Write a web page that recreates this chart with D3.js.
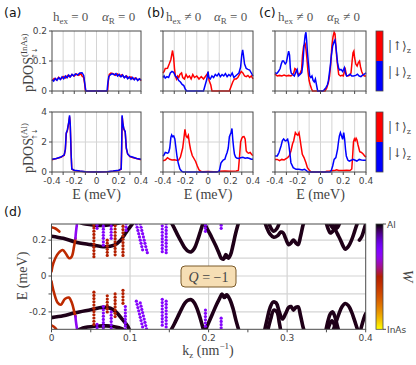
<!DOCTYPE html>
<html>
<head>
<meta charset="utf-8">
<script src="https://cdn.jsdelivr.net/npm/d3@7"></script>
<style>
  body { margin: 0; background: #fff; }
</style>
</head>
<body>
<svg id="fig" width="416" height="365"></svg>
<script>
// ---------- pDOS data, [E (meV), pDOS] ----------
const aTopRed = [[-0.4,0.034],[-0.38,0.042],[-0.36,0.037],[-0.34,0.046],[-0.32,0.040],[-0.3,0.048],[-0.28,0.043],[-0.26,0.052],[-0.24,0.047],[-0.22,0.055],[-0.2,0.050],[-0.18,0.057],[-0.16,0.052],[-0.14,0.058],[-0.13,0.050],[-0.115,0.045],[-0.105,0.02],[-0.1,0],[0.1,0],[0.105,0.03],[0.115,0.055],[0.13,0.060],[0.15,0.058],[0.17,0.052],[0.19,0.057],[0.21,0.050],[0.23,0.054],[0.25,0.045],[0.27,0.050],[0.29,0.043],[0.31,0.047],[0.33,0.040],[0.35,0.044],[0.37,0.037],[0.39,0.040],[0.4,0.034]];
const aTopBlue = [[-0.4,0.038],[-0.385,0.033],[-0.37,0.042],[-0.355,0.036],[-0.34,0.044],[-0.325,0.038],[-0.31,0.047],[-0.295,0.041],[-0.28,0.050],[-0.265,0.044],[-0.25,0.053],[-0.235,0.047],[-0.22,0.055],[-0.205,0.050],[-0.19,0.057],[-0.17,0.053],[-0.15,0.060],[-0.13,0.061],[-0.115,0.052],[-0.1,0.01],[-0.095,0],[0.095,0],[0.1,0.02],[0.11,0.048],[0.125,0.054],[0.14,0.058],[0.16,0.054],[0.175,0.058],[0.19,0.050],[0.205,0.055],[0.22,0.047],[0.235,0.053],[0.25,0.044],[0.265,0.050],[0.28,0.041],[0.295,0.047],[0.31,0.039],[0.325,0.045],[0.34,0.037],[0.355,0.043],[0.37,0.035],[0.385,0.041],[0.4,0.036]];
const aBotRed = [[-0.4,0.82],[-0.36,0.9],[-0.32,0.98],[-0.29,1.12],[-0.28,1.5],[-0.272,2.55],[-0.262,2.75],[-0.25,3.25],[-0.242,3.7],[-0.236,3.15],[-0.228,1.2],[-0.222,0.2],[-0.2,0.1],[-0.15,0.05],[-0.1,0.02],[0,0],[0.1,0.02],[0.15,0.05],[0.2,0.1],[0.222,0.2],[0.226,1.5],[0.231,3.7],[0.237,3.25],[0.246,2.85],[0.258,2.65],[0.268,1.55],[0.28,1.2],[0.3,1.02],[0.33,0.95],[0.36,0.9],[0.4,0.82]];
const aBotBlue = [[-0.4,0.85],[-0.36,0.9],[-0.32,1.0],[-0.29,1.15],[-0.28,1.5],[-0.272,2.6],[-0.262,2.8],[-0.25,3.3],[-0.242,3.78],[-0.236,3.2],[-0.228,1.2],[-0.222,0.2],[-0.2,0.12],[-0.15,0.06],[-0.1,0.02],[0,0],[0.1,0.02],[0.15,0.06],[0.2,0.12],[0.222,0.2],[0.226,1.5],[0.23,3.78],[0.236,3.3],[0.245,2.9],[0.258,2.7],[0.268,1.6],[0.28,1.2],[0.3,1.05],[0.33,0.98],[0.36,0.9],[0.4,0.85]];

const bTopRed = [[-0.4,0.06],[-0.39,0.065],[-0.38,0.075],[-0.36,0.076],[-0.345,0.09],[-0.33,0.105],[-0.315,0.135],[-0.305,0.11],[-0.298,0.075],[-0.29,0.05],[-0.28,0.04],[-0.27,0.05],[-0.26,0.045],[-0.25,0.055],[-0.235,0.06],[-0.225,0.045],[-0.21,0.04],[-0.195,0.055],[-0.18,0.045],[-0.165,0.05],[-0.15,0.04],[-0.135,0.055],[-0.12,0.045],[-0.1,0.05],[-0.08,0.04],[-0.06,0.048],[-0.04,0.04],[-0.02,0.05],[0,0.06],[0.01,0.035],[0.025,0.02],[0.035,0],[0.19,0],[0.205,0.015],[0.22,0.03],[0.235,0.04],[0.25,0.04],[0.265,0.045],[0.28,0.055],[0.295,0.065],[0.31,0.06],[0.325,0.05],[0.34,0.048],[0.355,0.052],[0.37,0.045],[0.385,0.05],[0.4,0.04]];
const bTopBlue = [[-0.4,0.045],[-0.39,0.05],[-0.38,0.043],[-0.365,0.048],[-0.35,0.045],[-0.335,0.06],[-0.32,0.065],[-0.305,0.062],[-0.29,0.05],[-0.275,0.045],[-0.26,0.035],[-0.245,0.03],[-0.23,0.022],[-0.215,0.018],[-0.2,0.005],[-0.19,0],[-0.04,0],[-0.025,0.02],[-0.01,0.04],[0,0.065],[0.008,0.045],[0.02,0.04],[0.035,0.05],[0.05,0.045],[0.065,0.055],[0.08,0.05],[0.095,0.058],[0.11,0.048],[0.125,0.055],[0.14,0.05],[0.155,0.058],[0.17,0.048],[0.185,0.055],[0.2,0.05],[0.215,0.06],[0.23,0.045],[0.245,0.05],[0.26,0.055],[0.275,0.06],[0.29,0.08],[0.3,0.12],[0.308,0.137],[0.315,0.12],[0.325,0.09],[0.34,0.075],[0.355,0.072],[0.37,0.07],[0.385,0.06],[0.4,0.05]];
const bBotRed = [[-0.4,0.75],[-0.38,0.8],[-0.36,0.95],[-0.34,0.85],[-0.32,0.8],[-0.3,0.82],[-0.28,0.78],[-0.26,0.8],[-0.245,1.0],[-0.235,1.3],[-0.225,1.6],[-0.215,2.2],[-0.205,2.84],[-0.195,2.4],[-0.185,2.3],[-0.175,2.45],[-0.165,1.9],[-0.155,1.5],[-0.14,1.1],[-0.125,0.9],[-0.11,0.7],[-0.095,0.4],[-0.08,0.15],[-0.065,0.05],[-0.05,0.02],[0,0.03],[0.05,0.02],[0.09,0.03],[0.1,0.05],[0.15,0.06],[0.2,0.05],[0.25,0.07],[0.27,0.1],[0.28,1.0],[0.29,2.0],[0.3,2.25],[0.31,2.35],[0.32,2.36],[0.33,2.2],[0.34,1.4],[0.35,1.3],[0.36,1.25],[0.375,1.3],[0.39,1.15],[0.4,1.1]];
const bBotBlue = [[-0.4,1.05],[-0.39,1.15],[-0.38,1.3],[-0.37,1.28],[-0.36,1.25],[-0.35,1.3],[-0.34,1.6],[-0.33,2.3],[-0.323,2.47],[-0.315,2.35],[-0.305,2.4],[-0.295,2.2],[-0.285,1.6],[-0.275,1.0],[-0.264,0.58],[-0.25,0.2],[-0.235,0.05],[-0.22,0],[0.08,0],[0.1,0.05],[0.107,0.3],[0.115,0.6],[0.125,0.7],[0.135,0.8],[0.15,0.85],[0.16,1.1],[0.17,1.3],[0.18,1.6],[0.19,2.36],[0.2,2.55],[0.205,2.6],[0.213,2.9],[0.22,2.2],[0.228,1.6],[0.235,1.2],[0.245,1.0],[0.255,0.93],[0.27,0.9],[0.29,0.95],[0.31,0.98],[0.33,0.92],[0.35,0.95],[0.37,0.9],[0.385,0.85],[0.4,0.85]];

const cTopRed = [[-0.4,0.056],[-0.38,0.05],[-0.36,0.052],[-0.34,0.05],[-0.32,0.053],[-0.3,0.05],[-0.28,0.052],[-0.26,0.05],[-0.245,0.055],[-0.235,0.06],[-0.225,0.075],[-0.215,0.072],[-0.205,0.06],[-0.195,0.055],[-0.18,0.058],[-0.166,0.072],[-0.158,0.12],[-0.148,0.15],[-0.135,0.157],[-0.128,0.14],[-0.12,0.11],[-0.11,0.065],[-0.1,0.035],[-0.09,0.02],[-0.08,0.008],[-0.07,0],[0.04,0],[0.055,0.01],[0.069,0.028],[0.08,0.05],[0.09,0.09],[0.1,0.15],[0.11,0.18],[0.12,0.196],[0.128,0.19],[0.135,0.15],[0.143,0.11],[0.151,0.083],[0.16,0.055],[0.175,0.05],[0.19,0.052],[0.2,0.05],[0.21,0.065],[0.218,0.072],[0.228,0.052],[0.24,0.05],[0.255,0.052],[0.268,0.06],[0.278,0.1],[0.286,0.128],[0.293,0.133],[0.3,0.11],[0.31,0.09],[0.322,0.083],[0.333,0.095],[0.343,0.1],[0.352,0.08],[0.362,0.065],[0.372,0.056],[0.385,0.05],[0.4,0.05]];
const cTopBlue = [[-0.4,0.061],[-0.385,0.058],[-0.37,0.065],[-0.355,0.075],[-0.345,0.09],[-0.335,0.1],[-0.325,0.1],[-0.31,0.09],[-0.3,0.095],[-0.29,0.115],[-0.28,0.133],[-0.272,0.12],[-0.265,0.075],[-0.258,0.06],[-0.245,0.055],[-0.23,0.05],[-0.215,0.065],[-0.205,0.072],[-0.195,0.05],[-0.18,0.055],[-0.165,0.061],[-0.155,0.09],[-0.145,0.15],[-0.135,0.185],[-0.128,0.196],[-0.122,0.17],[-0.115,0.13],[-0.107,0.094],[-0.095,0.05],[-0.085,0.045],[-0.075,0.05],[-0.065,0.035],[-0.055,0.03],[-0.045,0.04],[-0.035,0.02],[-0.025,0],[0.02,0],[0.035,0.005],[0.048,0.011],[0.06,0.02],[0.069,0.033],[0.078,0.06],[0.086,0.083],[0.096,0.12],[0.107,0.15],[0.12,0.165],[0.127,0.17],[0.135,0.15],[0.143,0.12],[0.15,0.094],[0.16,0.075],[0.17,0.07],[0.18,0.072],[0.195,0.065],[0.21,0.078],[0.22,0.06],[0.23,0.05],[0.245,0.052],[0.26,0.056],[0.275,0.05],[0.29,0.05],[0.31,0.052],[0.325,0.056],[0.34,0.05],[0.355,0.048],[0.37,0.053],[0.385,0.056],[0.4,0.061]];
const cBotRed = [[-0.4,0.84],[-0.38,0.84],[-0.36,0.75],[-0.34,0.84],[-0.32,0.8],[-0.3,0.9],[-0.289,0.96],[-0.275,1.07],[-0.26,1.4],[-0.245,1.9],[-0.236,2.07],[-0.221,2.62],[-0.21,2.5],[-0.2,2.45],[-0.189,2.62],[-0.18,2.2],[-0.171,1.73],[-0.16,1.18],[-0.145,0.96],[-0.128,0.62],[-0.115,0.29],[-0.1,0.13],[-0.083,0],[0.04,0],[0.055,0.05],[0.08,0.06],[0.1,0.08],[0.13,0.12],[0.142,0.15],[0.16,0.1],[0.2,0.1],[0.23,0.12],[0.26,0.1],[0.275,0.2],[0.282,1.0],[0.29,2.0],[0.298,2.2],[0.305,2.1],[0.313,2.25],[0.32,2.15],[0.33,1.8],[0.345,1.35],[0.36,1.3],[0.375,1.2],[0.39,1.05],[0.4,1.0]];
const cBotBlue = [[-0.4,1.07],[-0.38,1.07],[-0.365,1.3],[-0.347,1.73],[-0.335,2.1],[-0.324,2.2],[-0.31,2.07],[-0.3,2.1],[-0.289,2.18],[-0.28,1.9],[-0.27,1.3],[-0.26,0.62],[-0.24,0.29],[-0.215,0.18],[-0.19,0.18],[-0.16,0.13],[-0.14,0.18],[-0.125,0.1],[-0.11,0],[0.085,0],[0.095,0.1],[0.107,0.4],[0.12,0.84],[0.135,0.96],[0.15,1.5],[0.158,2.0],[0.166,2.4],[0.175,2.62],[0.185,2.4],[0.195,2.18],[0.204,2.62],[0.212,2.2],[0.22,1.5],[0.227,1.07],[0.24,0.8],[0.253,0.73],[0.27,0.78],[0.285,0.84],[0.3,0.8],[0.32,0.73],[0.34,0.84],[0.36,0.8],[0.38,0.78],[0.4,0.78]];

const eTicks = [-0.4, -0.3, -0.2, -0.1, 0, 0.1, 0.2, 0.3, 0.4];
const eTickLabels = [-0.4, -0.2, 0, 0.2, 0.4];

// ---------- band structure (d): [k (nm^-1), E (meV)], t = weight (0 Al ... 1 InAs) ----------
const bandBlackT = 0.015;
const bandsBlack = [
  // lowest Al-like band
  [[0,0.222],[0.015,0.21],[0.03,0.19],[0.05,0.175],[0.068,0.163],[0.08,0.172],[0.088,0.2],[0.093,0.23],[0.098,0.262],[0.102,0.285],[0.106,0.31]],
  [[0,-0.232],[0.015,-0.222],[0.03,-0.205],[0.05,-0.188],[0.065,-0.175],[0.075,-0.18],[0.082,-0.2],[0.09,-0.24],[0.097,-0.28],[0.1,-0.31]],
  // bands hugging the window edge
  [[0.03,0.31],[0.04,0.293],[0.05,0.286],[0.06,0.282],[0.07,0.283],[0.08,0.29],[0.09,0.3],[0.095,0.31]],
  [[0.03,-0.31],[0.04,-0.29],[0.055,-0.28],[0.07,-0.278],[0.08,-0.283],[0.09,-0.295],[0.095,-0.31]],
  // V shapes near k = 0.18 - 0.24
  [[0.151,0.31],[0.156,0.27],[0.161,0.225],[0.166,0.185],[0.17,0.155],[0.174,0.138],[0.178,0.135],[0.182,0.155],[0.186,0.2],[0.19,0.255],[0.194,0.31]],
  [[0.193,0.31],[0.198,0.265],[0.204,0.215],[0.209,0.17],[0.213,0.13],[0.216,0.1],[0.219,0.095],[0.222,0.12],[0.225,0.1],[0.228,0.12],[0.231,0.17],[0.234,0.23],[0.237,0.28],[0.239,0.31]],
  [[0.151,-0.31],[0.156,-0.27],[0.161,-0.225],[0.166,-0.18],[0.17,-0.15],[0.174,-0.135],[0.178,-0.132],[0.182,-0.15],[0.186,-0.19],[0.19,-0.245],[0.194,-0.31]],
  [[0.195,-0.31],[0.2,-0.26],[0.205,-0.21],[0.21,-0.16],[0.214,-0.125],[0.217,-0.1],[0.22,-0.12],[0.223,-0.105],[0.227,-0.13],[0.231,-0.18],[0.235,-0.25],[0.239,-0.31]],
  // k = 0.27 - 0.32
  [[0.271,0.31],[0.274,0.27],[0.278,0.235],[0.283,0.216],[0.288,0.225],[0.292,0.245],[0.295,0.24],[0.298,0.21],[0.302,0.175],[0.305,0.185],[0.308,0.2],[0.311,0.185],[0.314,0.175],[0.317,0.22],[0.32,0.28],[0.322,0.31]],
  [[0.276,0.31],[0.279,0.27],[0.283,0.25],[0.287,0.265],[0.291,0.31]],
  [[0.271,-0.31],[0.274,-0.25],[0.278,-0.18],[0.282,-0.145],[0.286,-0.15],[0.29,-0.2],[0.294,-0.24],[0.298,-0.21],[0.302,-0.175],[0.305,-0.17],[0.308,-0.19],[0.311,-0.175],[0.314,-0.172],[0.317,-0.22],[0.32,-0.28],[0.322,-0.31]],
  [[0.275,-0.31],[0.279,-0.24],[0.283,-0.19],[0.287,-0.2],[0.29,-0.26],[0.292,-0.31]],
  // k = 0.35 - 0.40
  [[0.349,0.31],[0.352,0.265],[0.355,0.24],[0.359,0.255],[0.363,0.29],[0.365,0.31]],
  [[0.352,0.31],[0.356,0.28],[0.36,0.26],[0.364,0.27],[0.368,0.31]],
  [[0.356,0.31],[0.36,0.27],[0.364,0.235],[0.368,0.2],[0.371,0.17],[0.374,0.15],[0.378,0.165],[0.382,0.2],[0.386,0.25],[0.389,0.29],[0.391,0.31]],
  [[0.392,0.2],[0.395,0.22],[0.398,0.26],[0.4,0.29]],
  [[0.358,-0.31],[0.362,-0.26],[0.366,-0.21],[0.37,-0.17],[0.374,-0.153],[0.378,-0.165],[0.382,-0.2],[0.386,-0.25],[0.389,-0.29],[0.391,-0.31]],
  [[0.349,-0.31],[0.352,-0.25],[0.355,-0.21],[0.358,-0.2],[0.361,-0.23],[0.364,-0.28],[0.366,-0.31]],
  [[0.351,-0.31],[0.354,-0.27],[0.357,-0.25],[0.36,-0.27],[0.362,-0.31]],
  [[0.393,-0.31],[0.396,-0.26],[0.399,-0.22],[0.4,-0.21]]
];

// InAs-like band near k = 0 (red), and its Al-mixed continuation (purple)
const bandRedT = 0.55;
const bandsRed = [
  [[0,0.025],[0.0023,0.071],[0.0087,0.127],[0.0143,0.145],[0.018,0.127],[0.0223,0.099],[0.0257,0.108],[0.0287,0.164],[0.0305,0.21]],
  [[0,-0.03],[0.003,-0.09],[0.008,-0.15],[0.012,-0.16],[0.017,-0.128],[0.022,-0.12],[0.026,-0.15],[0.029,-0.2],[0.0305,-0.225]],
  [[0,0.272],[0.005,0.265],[0.01,0.248]],
  [[0,-0.275],[0.005,-0.29],[0.008,-0.31]]
];
const bandMixT = 0.3;
const bandsMix = [
  [[0.0305,0.21],[0.031,0.239],[0.033,0.31]],
  [[0.0305,-0.225],[0.031,-0.25],[0.033,-0.31]]
];

// discrete-k states (dots)
const dotsRedT = 0.5;
const dotsRed = [
  [0.054,0.285],[0.054,0.268],[0.054,0.25],[0.054,0.232],[0.054,0.214],[0.054,0.196],[0.054,0.178],[0.054,0.16],[0.054,0.142],[0.054,0.124],[0.054,0.108],
  [0.071,0.2],[0.071,0.183],[0.071,0.166],[0.071,0.149],[0.071,0.132],[0.071,0.115],
  [0.081,0.28],[0.081,0.262],[0.081,0.244],[0.081,0.226],[0.081,0.208],[0.081,0.19],[0.081,0.172],[0.081,0.154],[0.081,0.136],[0.081,0.118],
  [0.091,0.295],[0.091,0.277],[0.091,0.259],[0.091,0.241],[0.091,0.223],[0.091,0.205],[0.091,0.187],[0.091,0.169],[0.091,0.151],[0.091,0.133],[0.091,0.115],
  [0.054,-0.09],[0.054,-0.108],[0.054,-0.126],[0.054,-0.144],[0.054,-0.162],[0.054,-0.18],[0.054,-0.198],[0.054,-0.216],[0.054,-0.234],[0.054,-0.252],[0.054,-0.27],
  [0.071,-0.11],[0.071,-0.128],[0.071,-0.146],[0.071,-0.164],[0.071,-0.182],[0.071,-0.2],
  [0.081,-0.1],[0.081,-0.118],[0.081,-0.136],[0.081,-0.154],[0.081,-0.172],[0.081,-0.19],[0.081,-0.208],[0.081,-0.226],
  [0.091,-0.08],[0.091,-0.098],[0.091,-0.116],[0.091,-0.134],[0.091,-0.152]
];
const dotsPurpleT = 0.27;
const dotsPurple = [
  [0.058,0.3],[0.058,0.283],[0.058,0.266],
  [0.066,0.295],[0.066,0.278],[0.066,0.261],[0.066,0.244],[0.066,0.227],[0.066,0.21],[0.066,0.19],[0.066,0.172],
  [0.076,0.295],[0.076,0.278],[0.076,0.261],[0.076,0.244],[0.076,0.227],[0.076,0.21],
  [0.095,0.29],[0.095,0.272],[0.095,0.254],
  [0.108,0.29],[0.109,0.272],[0.11,0.254],[0.111,0.236],[0.112,0.218],[0.113,0.2],[0.114,0.182],[0.115,0.164],[0.116,0.146],
  [0.113,0.29],[0.114,0.272],[0.115,0.254],[0.116,0.236],[0.117,0.218],[0.118,0.2],[0.119,0.182],[0.12,0.164],[0.121,0.146],[0.122,0.13],
  [0.141,0.28],[0.141,0.262],[0.141,0.244],[0.141,0.226],[0.141,0.208],[0.141,0.19],[0.141,0.172],[0.141,0.154],[0.141,0.136],
  [0.146,0.29],[0.146,0.272],[0.146,0.254],[0.146,0.236],[0.146,0.218],[0.146,0.2],[0.146,0.182],[0.146,0.164],[0.146,0.146],[0.146,0.13],
  [0.196,0.3],[0.196,0.283],[0.196,0.266],[0.196,0.249],
  [0.216,0.3],[0.216,0.283],[0.216,0.266],
  [0.058,-0.27],[0.058,-0.288],
  [0.066,-0.17],[0.066,-0.188],[0.066,-0.206],[0.066,-0.224],[0.066,-0.242],[0.066,-0.26],[0.066,-0.278],[0.066,-0.296],
  [0.076,-0.2],[0.076,-0.218],[0.076,-0.236],[0.076,-0.254],[0.076,-0.272],[0.076,-0.29],
  [0.094,-0.17],[0.094,-0.188],[0.094,-0.206],[0.094,-0.224],[0.094,-0.242],[0.094,-0.26],[0.094,-0.278],[0.094,-0.296],
  [0.108,-0.14],[0.109,-0.158],[0.11,-0.176],[0.111,-0.194],[0.112,-0.212],[0.113,-0.23],[0.114,-0.248],[0.115,-0.266],[0.116,-0.284],
  [0.113,-0.15],[0.114,-0.168],[0.115,-0.186],[0.116,-0.204],[0.117,-0.222],[0.118,-0.24],[0.119,-0.258],[0.12,-0.276],[0.121,-0.294],
  [0.141,-0.13],[0.141,-0.148],[0.141,-0.166],[0.141,-0.184],[0.141,-0.202],[0.141,-0.22],[0.141,-0.238],[0.141,-0.256],[0.141,-0.274],
  [0.146,-0.14],[0.146,-0.158],[0.146,-0.176],[0.146,-0.194],[0.146,-0.212],[0.146,-0.23],[0.146,-0.248],[0.146,-0.266],[0.146,-0.284],
  [0.196,-0.19],[0.196,-0.208],[0.196,-0.226],[0.196,-0.244],[0.196,-0.262],[0.196,-0.28],
  [0.216,-0.235],[0.216,-0.253],[0.216,-0.271],[0.216,-0.289]
];
const kTicks = [0, 0.1, 0.2, 0.3, 0.4];
const kMinorTicks = [0.05, 0.15, 0.25, 0.35];
const dETicks = [-0.2, -0.1, 0, 0.1, 0.2];
const dETickLabels = [-0.2, 0, 0.2];

// ---------- helpers ----------
const svg = d3.select("#fig");
const serif = "'Liberation Serif', 'DejaVu Serif', serif";
const sans = "'DejaVu Sans', 'Liberation Sans', sans-serif";
const frameCol = "#4a4a4a", gridCol = "#d4d4d4", labCol = "#444";

// gnuplot-like colour map: 0 -> black (Al), 1 -> yellow (InAs)
function gnu(t) {
  const r = Math.sqrt(t), g = t * t * t, b = Math.max(0, Math.sin(2 * Math.PI * t));
  return d3.rgb(255 * r, 255 * g, 255 * b).formatHex();
}

function fmt(v) { return v === 0 ? "0" : String(v); }

function drawDOS(o) {
  const x = d3.scaleLinear().domain([-0.4, 0.4]).range([o.x0, o.x1]);
  const y = d3.scaleLinear().domain([0, o.ymax]).range([o.y1, o.y0]);
  const g = svg.append("g");

  // grid
  g.selectAll(".vg").data(eTicks.slice(1, -1)).enter().append("line")
    .attr("x1", d => x(d)).attr("x2", d => x(d)).attr("y1", o.y0).attr("y2", o.y1)
    .attr("stroke", gridCol).attr("stroke-width", 1);
  g.append("line").attr("x1", o.x0).attr("x2", o.x1)
    .attr("y1", y(o.ymax / 2)).attr("y2", y(o.ymax / 2))
    .attr("stroke", gridCol).attr("stroke-width", 1);

  const line = d3.line().x(d => x(d[0])).y(d => y(d[1]));
  g.append("path").datum(o.red).attr("d", line)
    .attr("fill", "none").attr("stroke", "#ff0000").attr("stroke-width", 1.5);
  g.append("path").datum(o.blue).attr("d", line)
    .attr("fill", "none").attr("stroke", "#0000ff").attr("stroke-width", 1.5);

  g.append("rect").attr("x", o.x0).attr("y", o.y0)
    .attr("width", o.x1 - o.x0).attr("height", o.y1 - o.y0)
    .attr("fill", "none").attr("stroke", frameCol).attr("stroke-width", 1);

  // ticks
  g.selectAll(".xt").data(eTicks).enter().append("line")
    .attr("x1", d => x(d)).attr("x2", d => x(d)).attr("y1", o.y1).attr("y2", o.y1 + 3)
    .attr("stroke", frameCol);
  g.selectAll(".yt").data([0, o.ymax / 2, o.ymax]).enter().append("line")
    .attr("x1", o.x0 - 3).attr("x2", o.x0).attr("y1", d => y(d)).attr("y2", d => y(d))
    .attr("stroke", frameCol);

  if (o.yLabels) {
    g.selectAll(".yl").data(o.yLabels).enter().append("text")
      .attr("x", o.x0 - 5).attr("y", d => y(d) + 3)
      .attr("text-anchor", "end").attr("font-family", sans).attr("font-size", 9)
      .attr("fill", labCol).text(fmt);
  }
  if (o.xLabels) {
    g.selectAll(".xl").data(eTickLabels).enter().append("text")
      .attr("x", d => x(d)).attr("y", o.y1 + 12)
      .attr("text-anchor", "middle").attr("font-family", sans).attr("font-size", 9)
      .attr("fill", labCol).text(fmt);
    g.append("text").attr("x", (o.x0 + o.x1) / 2).attr("y", o.y1 + 27)
      .attr("text-anchor", "middle").attr("font-family", serif).attr("font-size", 14)
      .attr("fill", labCol).text("E (meV)");
  }
}

// ---------- top: pDOS panels ----------
const cols = [[52, 141], [163, 253], [275, 366]];
const topData = [[aTopRed, aTopBlue], [bTopRed, bTopBlue], [cTopRed, cTopBlue]];
const botData = [[aBotRed, aBotBlue], [bBotRed, bBotBlue], [cBotRed, cBotBlue]];
cols.forEach((c, i) => {
  drawDOS({ x0: c[0], x1: c[1], y0: 31, y1: 91, ymax: 0.2,
    red: topData[i][0], blue: topData[i][1], yLabels: i === 0 ? [0, 0.1, 0.2] : null });
  drawDOS({ x0: c[0], x1: c[1], y0: 112, y1: 172, ymax: 4,
    red: botData[i][0], blue: botData[i][1], yLabels: i === 0 ? [0, 2, 4] : null, xLabels: true });
});

// spin colour bars
[[31, 91], [112, 172]].forEach(([y0, y1]) => {
  const ym = (y0 + y1) / 2;
  svg.append("rect").attr("x", 376).attr("y", y0).attr("width", 7).attr("height", ym - y0).attr("fill", "#ff0000");
  svg.append("rect").attr("x", 376).attr("y", ym).attr("width", 7).attr("height", y1 - ym).attr("fill", "#0000ff");
  svg.append("rect").attr("x", 376).attr("y", y0).attr("width", 7).attr("height", y1 - y0)
    .attr("fill", "none").attr("stroke", frameCol).attr("stroke-width", 0.8);
  [["|\u2191\u27E9", y0 + 19], ["|\u2193\u27E9", y0 + 45]].forEach(([s, yy]) => {
    const t = svg.append("text").attr("x", 388).attr("y", yy)
      .attr("font-family", "'DejaVu Serif', serif").attr("font-size", 12).attr("fill", labCol);
    t.append("tspan").text(s);
    t.append("tspan").attr("font-size", 8).attr("dy", 3).text("z");
  });
});

// panel titles
function title(x, y, sym, sub, rel, italic) {
  const t = svg.append("text").attr("x", x).attr("y", y)
    .attr("font-family", serif).attr("font-size", 13).attr("fill", "#555");
  t.append("tspan").attr("font-style", italic ? "italic" : "normal").text(sym);
  t.append("tspan").attr("font-size", 9).attr("dy", 3).text(sub);
  t.append("tspan").attr("dy", -3).text(" " + rel);
}
title(53, 21, "h", "ex", "= 0", false);
title(102, 21, "\u03B1", "R", "= 0", true);
title(166, 21, "h", "ex", "\u2260 0", false);
title(214, 21, "\u03B1", "R", "= 0", true);
title(278, 21, "h", "ex", "\u2260 0", false);
title(327, 21, "\u03B1", "R", "\u2260 0", true);

[["(a)", 4, 17], ["(b)", 147, 17], ["(c)", 259, 17], ["(d)", 4, 216]].forEach(([s, x, y]) => {
  svg.append("text").attr("x", x).attr("y", y).attr("font-family", sans)
    .attr("font-size", 12.5).attr("fill", "#111").text(s);
});

// y labels for pDOS rows
function pdosLabel(cy, sup) {
  const g = svg.append("g").attr("transform", `translate(33,${cy}) rotate(-90)`);
  const t = g.append("text").attr("x", -31).attr("y", 0)
    .attr("font-family", serif).attr("font-size", 14).attr("fill", labCol);
  t.append("tspan").text("pDOS");
  t.append("tspan").attr("font-size", 9).attr("dy", -6).text(sup);
  g.append("text").attr("x", 2).attr("y", 4).attr("font-family", "'DejaVu Sans', sans-serif")
    .attr("font-size", 7).attr("fill", labCol).text("\u2191\u2193");
}
pdosLabel(61, "(InAs)");
pdosLabel(142, "(Al)");

// ---------- bottom: band structure (d) ----------
const kx = d3.scaleLinear().domain([0, 0.4]).range([51.5, 365.7]);
const ey = d3.scaleLinear().domain([-0.297, 0.29]).range([329.3, 224]);
const dL = kx.range()[0], dR = kx.range()[1], dT = 224, dB = 329.3;

svg.append("clipPath").attr("id", "dclip").append("rect")
  .attr("x", dL).attr("y", dT).attr("width", dR - dL).attr("height", dB - dT);

const gd = svg.append("g");
gd.selectAll(".hg").data(dETicks).enter().append("line")
  .attr("x1", dL).attr("x2", dR).attr("y1", d => ey(d)).attr("y2", d => ey(d))
  .attr("stroke", gridCol).attr("stroke-width", 1.2);
gd.selectAll(".vg").data(kTicks.slice(1, -1)).enter().append("line")
  .attr("x1", d => kx(d)).attr("x2", d => kx(d)).attr("y1", dT).attr("y2", dB)
  .attr("stroke", gridCol).attr("stroke-width", 1.2);

const plot = gd.append("g").attr("clip-path", "url(#dclip)");
const bline = d3.line().x(d => kx(d[0])).y(d => ey(d[1])).curve(d3.curveCatmullRom);

function drawBands(list, t, w) {
  plot.selectAll(null).data(list).enter().append("path")
    .attr("d", bline).attr("fill", "none").attr("stroke", gnu(t))
    .attr("stroke-width", w).attr("stroke-linecap", "round").attr("stroke-linejoin", "round");
}
drawBands(bandsBlack, bandBlackT, 3.6);
drawBands(bandsRed, bandRedT, 2.6);
drawBands(bandsMix, bandMixT, 2.6);

plot.selectAll(".dr").data(dotsRed).enter().append("circle")
  .attr("cx", d => kx(d[0])).attr("cy", d => ey(d[1])).attr("r", 1.6).attr("fill", gnu(dotsRedT));
plot.selectAll(".dp").data(dotsPurple).enter().append("circle")
  .attr("cx", d => kx(d[0])).attr("cy", d => ey(d[1])).attr("r", 1.6).attr("fill", gnu(dotsPurpleT));

gd.append("rect").attr("x", dL).attr("y", dT).attr("width", dR - dL).attr("height", dB - dT)
  .attr("fill", "none").attr("stroke", frameCol).attr("stroke-width", 1);

// axes ticks and labels
gd.selectAll(".kt").data(kTicks.concat(kMinorTicks)).enter().append("line")
  .attr("x1", d => kx(d)).attr("x2", d => kx(d)).attr("y1", dB).attr("y2", dB + 3).attr("stroke", frameCol);
gd.selectAll(".kl").data(kTicks).enter().append("text")
  .attr("x", d => kx(d)).attr("y", dB + 12).attr("text-anchor", "middle")
  .attr("font-family", sans).attr("font-size", 9).attr("fill", labCol).text(fmt);
gd.selectAll(".et").data(dETicks).enter().append("line")
  .attr("x1", dL - 3).attr("x2", dL).attr("y1", d => ey(d)).attr("y2", d => ey(d)).attr("stroke", frameCol);
gd.selectAll(".el").data(dETickLabels).enter().append("text")
  .attr("x", dL - 5).attr("y", d => ey(d) + 3).attr("text-anchor", "end")
  .attr("font-family", sans).attr("font-size", 9).attr("fill", labCol).text(fmt);

const kl = svg.append("text").attr("x", 208).attr("y", 355).attr("text-anchor", "middle")
  .attr("font-family", serif).attr("font-size", 14).attr("fill", labCol);
kl.append("tspan").text("k");
kl.append("tspan").attr("font-size", 9).attr("dy", 3).text("z");
kl.append("tspan").attr("dy", -3).text(" (nm");
kl.append("tspan").attr("font-size", 9).attr("dy", -6).text("\u22121");
kl.append("tspan").attr("dy", 6).text(")");

svg.append("text").attr("transform", "translate(27,276) rotate(-90)")
  .attr("text-anchor", "middle").attr("font-family", serif).attr("font-size", 14)
  .attr("fill", labCol).text("E (meV)");

// topological charge box
svg.append("rect").attr("x", 181).attr("y", 266).attr("width", 55).attr("height", 21).attr("rx", 4)
  .attr("fill", "#f6deb4").attr("stroke", "#7a5a2a").attr("stroke-width", 1);
const qt = svg.append("text").attr("x", 208.5).attr("y", 281.5).attr("text-anchor", "middle")
  .attr("font-family", serif).attr("font-size", 14).attr("fill", "#444");
qt.append("tspan").attr("font-style", "italic").text("Q");
qt.append("tspan").text(" = \u22121");

// weight colour bar
const grad = svg.append("defs").append("linearGradient").attr("id", "wgrad")
  .attr("x1", 0).attr("y1", 0).attr("x2", 0).attr("y2", 1);
grad.selectAll("stop").data(d3.range(0, 1.0001, 0.05)).enter().append("stop")
  .attr("offset", d => d).attr("stop-color", d => gnu(d));
svg.append("rect").attr("x", 376).attr("y", dT).attr("width", 7).attr("height", dB - dT)
  .attr("fill", "url(#wgrad)").attr("stroke", frameCol).attr("stroke-width", 0.8);
[[dT, "Al"], [dB, "InAs"]].forEach(([yy, s]) => {
  svg.append("line").attr("x1", 383).attr("x2", 386).attr("y1", yy).attr("y2", yy).attr("stroke", frameCol);
  svg.append("text").attr("x", 387).attr("y", yy + 3.5).attr("font-family", sans)
    .attr("font-size", 9).attr("fill", labCol).text(s);
});
svg.append("text").attr("transform", "translate(403,276) rotate(90)")
  .attr("text-anchor", "middle").attr("font-family", serif).attr("font-style", "italic")
  .attr("font-size", 15).attr("fill", labCol).text("W");
</script>
</body>
</html>
